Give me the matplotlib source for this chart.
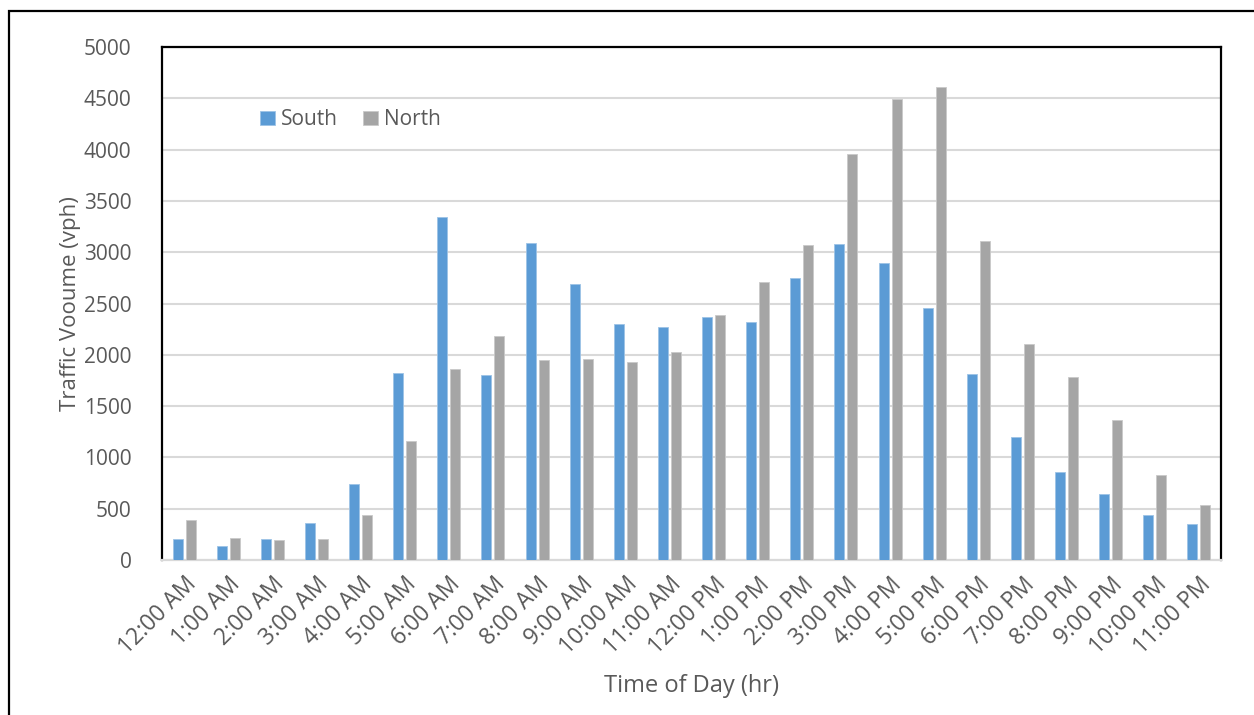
import numpy as np
import matplotlib
matplotlib.use("Agg")
import matplotlib.pyplot as plt
from matplotlib.patches import Rectangle

plt.rcParams['font.family'] = ['Open Sans', 'DejaVu Sans']

hours = ["12:00 AM", "1:00 AM", "2:00 AM", "3:00 AM", "4:00 AM", "5:00 AM",
         "6:00 AM", "7:00 AM", "8:00 AM", "9:00 AM", "10:00 AM", "11:00 AM",
         "12:00 PM", "1:00 PM", "2:00 PM", "3:00 PM", "4:00 PM", "5:00 PM",
         "6:00 PM", "7:00 PM", "8:00 PM", "9:00 PM", "10:00 PM", "11:00 PM"]
south = [200, 140, 200, 360, 740, 1820, 3340, 1800, 3090, 2690, 2300, 2270,
         2370, 2320, 2750, 3080, 2890, 2460, 1810, 1200, 860, 640, 440, 350]
north = [390, 210, 195, 200, 440, 1160, 1860, 2180, 1950, 1960, 1930, 2030,
         2390, 2710, 3070, 3960, 4490, 4610, 3110, 2110, 1780, 1360, 830, 540]

txt = '#595959'
fig = plt.figure(figsize=(12.54, 7.15), dpi=100)
ax = fig.add_axes([162 / 1254, 1 - 560 / 715, (1221 - 162) / 1254, (560 - 47) / 715])

x = np.arange(len(hours))
w = 0.227
ax.bar(x - 0.148, south, w, color='#5b9bd5', edgecolor='#9dc3e6', linewidth=0.6, label='South', zorder=3)
ax.bar(x + 0.148, north, w, color='#a5a5a5', edgecolor='#c9c9c9', linewidth=0.6, label='North', zorder=3)

ax.set_xlim(-0.5, len(hours) - 0.5)
ax.set_ylim(0, 5000)
ax.set_yticks(np.arange(0, 5001, 500))
ax.yaxis.grid(True, color='#d9d9d9', linewidth=1.5, zorder=0)
ax.set_axisbelow(True)

ax.set_xticks(x)
ax.set_xticklabels(hours, rotation=45, ha='right', rotation_mode='anchor')
ax.tick_params(axis='both', length=0, colors=txt)
ax.tick_params(axis='y', pad=22, labelsize=15)
ax.tick_params(axis='x', pad=9, labelsize=16.5)

for s in ['left', 'top', 'right']:
    ax.spines[s].set_color('black')
    ax.spines[s].set_linewidth(1.6)
ax.spines['bottom'].set_color('#d9d9d9')
ax.spines['bottom'].set_linewidth(1.6)

ax.set_ylabel('Traffic Vooume (vph)', fontsize=16, color=txt, labelpad=2)
ax.set_xlabel('Time of Day (hr)', fontsize=17, color=txt, labelpad=10)

leg = ax.legend(loc='upper left', bbox_to_anchor=(0.075, 0.915), ncol=2, frameon=False,
                fontsize=15, handlelength=0.7, handleheight=0.7, handletextpad=0.3,
                columnspacing=1.2)
for t in leg.get_texts():
    t.set_color(txt)

# outer chart border
fig.patches.append(Rectangle((9 / 1254, -0.05), 1.1, 1 - 11 / 715 + 0.05,
                             transform=fig.transFigure, fill=False,
                             edgecolor='black', linewidth=1.6))

fig.savefig('out.png', dpi=100)
